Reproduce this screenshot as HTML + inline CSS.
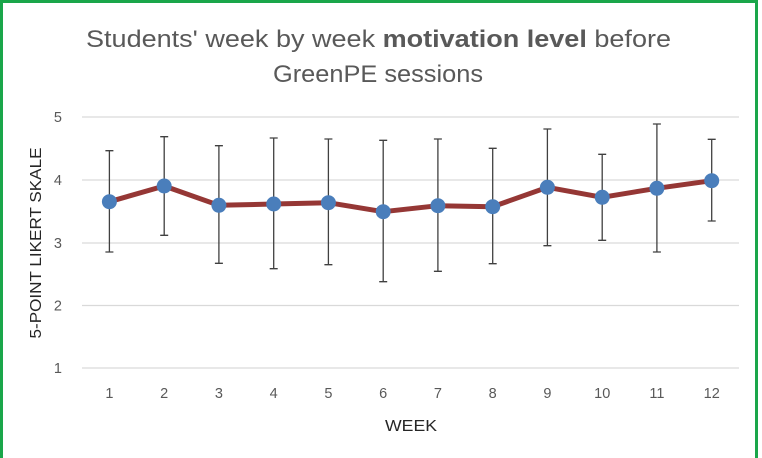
<!DOCTYPE html>
<html>
<head>
<meta charset="utf-8">
<style>
html,body{margin:0;padding:0;background:#fff;}
svg{display:block;}
</style>
</head>
<body>
<svg width="762" height="458" viewBox="0 0 762 458" xmlns="http://www.w3.org/2000/svg">
  <rect x="0" y="0" width="762" height="458" fill="#fff"/>
  <!-- green border -->
  <rect x="1.5" y="1.5" width="755" height="470" fill="none" stroke="#1aa64a" stroke-width="3"/>

  <!-- title -->
  <text x="378.5" y="47" text-anchor="middle" font-family="Liberation Sans, sans-serif" font-size="24" fill="#595959" textLength="585" lengthAdjust="spacingAndGlyphs">Students' week by week <tspan font-weight="bold">motivation level</tspan> before</text>
  <text x="378" y="82" text-anchor="middle" font-family="Liberation Sans, sans-serif" font-size="24" fill="#595959" textLength="210" lengthAdjust="spacingAndGlyphs">GreenPE sessions</text>

  <!-- gridlines -->
  <g stroke="#d9d9d9" stroke-width="1.2">
    <line x1="82" y1="117" x2="739" y2="117"/>
    <line x1="82" y1="180" x2="739" y2="180"/>
    <line x1="82" y1="243" x2="739" y2="243"/>
    <line x1="82" y1="305.5" x2="739" y2="305.5"/>
    <line x1="82" y1="368" x2="739" y2="368"/>
  </g>

  <!-- y tick labels -->
  <g font-family="Liberation Sans, sans-serif" font-size="14.5" fill="#595959" text-anchor="end">
    <text x="62" y="122">5</text>
    <text x="62" y="185">4</text>
    <text x="62" y="248">3</text>
    <text x="62" y="310.5">2</text>
    <text x="62" y="373">1</text>
  </g>

  <!-- x tick labels -->
  <g font-family="Liberation Sans, sans-serif" font-size="14.5" fill="#595959" text-anchor="middle">
    <text x="109.4" y="398">1</text>
    <text x="164.2" y="398">2</text>
    <text x="218.9" y="398">3</text>
    <text x="273.7" y="398">4</text>
    <text x="328.4" y="398">5</text>
    <text x="383.2" y="398">6</text>
    <text x="437.9" y="398">7</text>
    <text x="492.7" y="398">8</text>
    <text x="547.4" y="398">9</text>
    <text x="602.2" y="398">10</text>
    <text x="656.9" y="398">11</text>
    <text x="711.7" y="398">12</text>
  </g>

  <!-- axis titles -->
  <text x="411" y="431" text-anchor="middle" font-family="Liberation Sans, sans-serif" font-size="16" fill="#262626" textLength="52" lengthAdjust="spacingAndGlyphs">WEEK</text>
  <text transform="translate(41,243) rotate(-90)" x="0" y="0" text-anchor="middle" font-family="Liberation Sans, sans-serif" font-size="16" fill="#262626" textLength="191" lengthAdjust="spacingAndGlyphs">5-POINT LIKERT SKALE</text>

  <!-- error bars -->
  <g stroke="#404040" stroke-width="1.3" fill="none">
    <path d="M109.4 150.7V252 M105.4 150.7h8 M105.4 252h8"/>
    <path d="M164.2 136.7V235.3 M160.2 136.7h8 M160.2 235.3h8"/>
    <path d="M218.9 145.7V263.3 M214.9 145.7h8 M214.9 263.3h8"/>
    <path d="M273.7 138V268.7 M269.7 138h8 M269.7 268.7h8"/>
    <path d="M328.4 139V264.7 M324.4 139h8 M324.4 264.7h8"/>
    <path d="M383.2 140.3V281.7 M379.2 140.3h8 M379.2 281.7h8"/>
    <path d="M437.9 139V271.3 M433.9 139h8 M433.9 271.3h8"/>
    <path d="M492.7 148.3V263.7 M488.7 148.3h8 M488.7 263.7h8"/>
    <path d="M547.4 129V245.7 M543.4 129h8 M543.4 245.7h8"/>
    <path d="M602.2 154.3V240.3 M598.2 154.3h8 M598.2 240.3h8"/>
    <path d="M656.9 124V252 M652.9 124h8 M652.9 252h8"/>
    <path d="M711.7 139.3V221 M707.7 139.3h8 M707.7 221h8"/>
  </g>

  <!-- line -->
  <polyline fill="none" stroke="#953735" stroke-width="5" stroke-linejoin="round"
    points="109.4,201.7 164.2,186 218.9,205.3 273.7,204 328.4,202.7 383.2,211.7 437.9,205.7 492.7,206.7 547.4,187.3 602.2,197.3 656.9,188.3 711.7,180.7"/>

  <!-- markers -->
  <g fill="#4a7ebb">
    <circle cx="109.4" cy="201.7" r="7.5"/>
    <circle cx="164.2" cy="186" r="7.5"/>
    <circle cx="218.9" cy="205.3" r="7.5"/>
    <circle cx="273.7" cy="204" r="7.5"/>
    <circle cx="328.4" cy="202.7" r="7.5"/>
    <circle cx="383.2" cy="211.7" r="7.5"/>
    <circle cx="437.9" cy="205.7" r="7.5"/>
    <circle cx="492.7" cy="206.7" r="7.5"/>
    <circle cx="547.4" cy="187.3" r="7.5"/>
    <circle cx="602.2" cy="197.3" r="7.5"/>
    <circle cx="656.9" cy="188.3" r="7.5"/>
    <circle cx="711.7" cy="180.7" r="7.5"/>
  </g>
</svg>
</body>
</html>
